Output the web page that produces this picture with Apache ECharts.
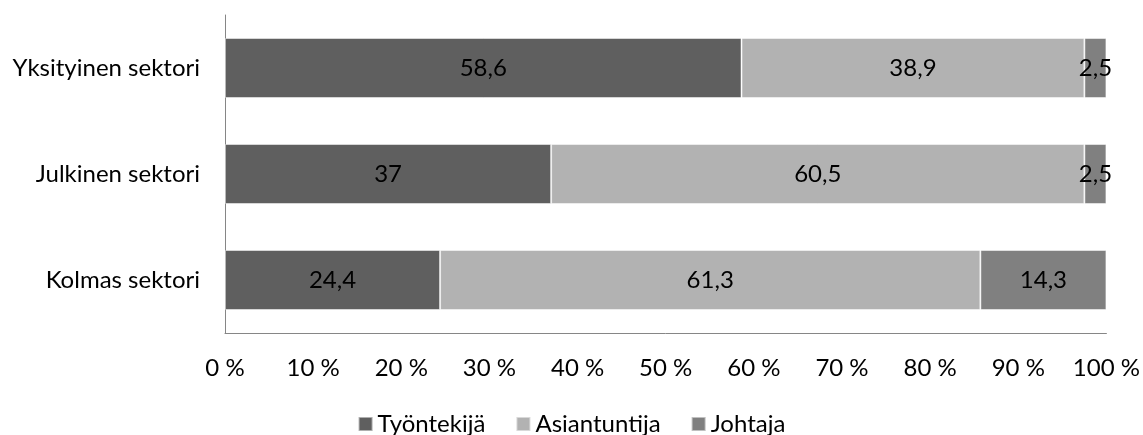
<!DOCTYPE html>
<html><head><meta charset="utf-8">
<script src="https://cdn.jsdelivr.net/npm/echarts@6/dist/echarts.min.js"></script>
<style>html,body{margin:0;padding:0;background:#fff}#c{width:1143px;height:435px}</style>
</head><body><div id="c"></div>
<script>
const categories = ['Yksityinen sektori', 'Julkinen sektori', 'Kolmas sektori'];
const tyontekija = [58.6, 37, 24.4];
const asiantuntija = [38.9, 60.5, 61.3];
const johtaja = [2.5, 2.5, 14.3];
const seriesNames = ['Työntekijä', 'Asiantuntija', 'Johtaja'];
const colors = ['#5f5f5f', '#b2b2b2', '#808080'];
const FONT = 'Lato';
const FS = 24;
const fmt = v => String(v).replace('.', ',');
const chart = echarts.init(document.getElementById('c'), null, {renderer: 'canvas'});
const mk = (name, data, color) => ({
  name, type: 'bar', stack: 'a', data, barWidth: 60,
  itemStyle: {color, borderColor: 'rgba(255,255,255,0.5)', borderWidth: 1},
  label: {show: true, position: 'inside', color: '#000', fontFamily: FONT, fontSize: FS,
          formatter: p => fmt(p.value)},
  emphasis: {disabled: true}
});
chart.setOption({
  animation: false,
  textStyle: {fontFamily: FONT},
  grid: {left: 225, right: 36, top: 15, bottom: 102, containLabel: false},
  legend: {
    top: 407, left: 'center', icon: 'rect', itemWidth: 14, itemHeight: 14, itemGap: 30,
    textStyle: {fontFamily: FONT, fontSize: FS, color: '#000'},
    data: seriesNames
  },
  xAxis: {
    type: 'value', min: 0, max: 100, interval: 10,
    axisLine: {show: true, lineStyle: {color: '#868686', width: 1}},
    axisTick: {show: false}, splitLine: {show: false},
    axisLabel: {formatter: '{value} %', color: '#000', fontFamily: FONT, fontSize: FS, margin: 23}
  },
  yAxis: {
    type: 'category', data: categories, inverse: true,
    axisLine: {show: true, lineStyle: {color: '#868686', width: 1}},
    axisTick: {show: false},
    axisLabel: {color: '#000', fontFamily: FONT, fontSize: FS, margin: 25}
  },
  series: [
    mk(seriesNames[0], tyontekija, colors[0]),
    mk(seriesNames[1], asiantuntija, colors[1]),
    mk(seriesNames[2], johtaja, colors[2])
  ]
});
</script></body></html>
